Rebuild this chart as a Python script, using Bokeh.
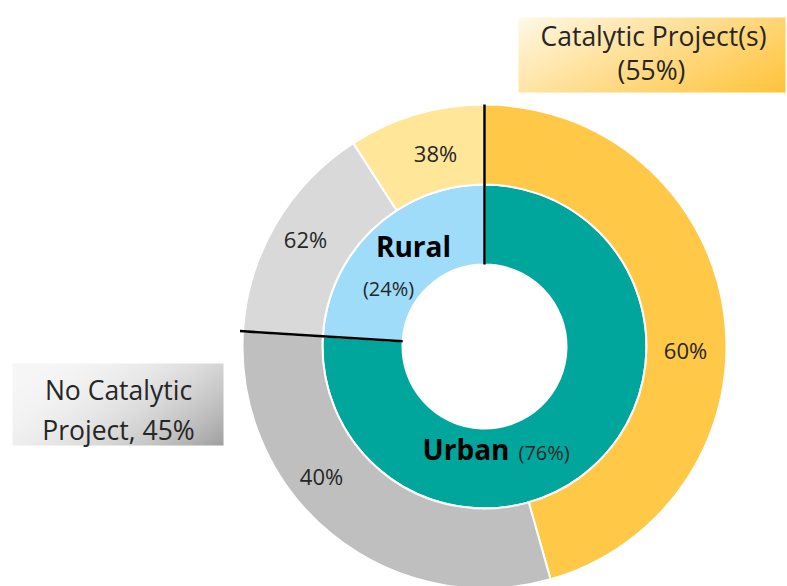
import numpy as np
from bokeh.plotting import figure
from bokeh.models import Range1d
from bokeh.core.properties import value
from bokeh.embed import file_html
from bokeh.resources import INLINE

# ---------------- data ----------------
inner_names = ["Urban", "Rural"]
inner_shares = [76, 24]                      # % of projects
outer_groups = ["Urban", "Urban", "Rural", "Rural"]
outer_kinds = ["Catalytic", "No catalytic", "No catalytic", "Catalytic"]
outer_shares = [60, 40, 62, 38]              # % within group
catalytic_total = 55
no_catalytic_total = 45

# ---------------- styling / layout ----------------
W, H = 787, 586
CX, CY = 484, 240
R_HOLE, R_INNER, R_OUTER = 82, 162, 242
inner_colors = ["#00A69C", "#9FDCF9"]
outer_colors = ["#FFC846", "#BFBFBF", "#D9D9D9", "#FFE699"]
FONT = "Open Sans"
TXT = "#262626"

p = figure(width=W, height=H, x_range=Range1d(0, W), y_range=Range1d(0, H),
           output_backend="svg", toolbar_location=None, min_border=0,
           outline_line_color=None, background_fill_color="white",
           border_fill_color="white")
p.axis.visible = False
p.grid.visible = False

# ---------- gradient callout boxes ----------
def gradient_box(x0, y0, w, h, c_light, c_dark, gamma=1.0):
    nx, ny = int(w), int(h)
    u = np.linspace(0, 1, nx)[None, :]
    v = np.linspace(0, 1, ny)[:, None]
    t = np.clip((0.65 * u + 0.35 * (1 - v)), 0, 1) ** gamma
    a = np.array(c_light, float)
    b = np.array(c_dark, float)
    rgb = a[None, None, :] * (1 - t[..., None]) + b[None, None, :] * t[..., None]
    arr = np.zeros((ny, nx, 4), dtype=np.uint8)
    arr[..., :3] = np.clip(rgb, 0, 255).astype(np.uint8)
    arr[..., 3] = 255
    img = arr.view(np.uint32).reshape(ny, nx)
    p.image_rgba(image=[img], x=x0, y=y0, dw=w, dh=h)

gradient_box(518, 494, 267, 75, (255, 250, 235), (255, 196, 60), gamma=0.9)
gradient_box(12, 141, 211, 82, (247, 247, 247), (160, 160, 160), gamma=2.2)

# ---------- wedges ----------
def spans(shares_deg):
    cum = np.concatenate([[0], np.cumsum(shares_deg)])
    starts = 90 - cum[1:]
    ends = 90 - cum[:-1]
    return np.deg2rad(starts), np.deg2rad(ends)

inner_deg = [s / 100 * 360 for s in inner_shares]
in_start, in_end = spans(inner_deg)

outer_deg = []
for g, s in zip(outer_groups, outer_shares):
    outer_deg.append(inner_deg[inner_names.index(g)] * s / 100)
out_start, out_end = spans(outer_deg)

p.annular_wedge(x=CX, y=CY, inner_radius=R_HOLE, outer_radius=R_INNER,
                start_angle=in_start, end_angle=in_end,
                fill_color=inner_colors, line_color="white", line_width=2)
p.annular_wedge(x=CX, y=CY, inner_radius=R_INNER, outer_radius=R_OUTER,
                start_angle=out_start, end_angle=out_end,
                fill_color=outer_colors, line_color="white", line_width=2)

# black separators at inner boundaries
bang = np.array([in_end[0], in_start[0]])
r_out = np.array([R_OUTER, R_OUTER + 3])
p.segment(x0=CX + R_HOLE * np.cos(bang), y0=CY + R_HOLE * np.sin(bang),
          x1=CX + r_out * np.cos(bang), y1=CY + r_out * np.sin(bang),
          line_color="black", line_width=2.5)

# ---------- labels ----------
outer_label_pos = [(685, 237), (321, 111), (305, 348), (435, 434)]
for (lx, ly), s in zip(outer_label_pos, outer_shares):
    p.text(x=[lx], y=[ly], text=[f"{s}%"], text_font=value(FONT),
           text_font_size="22px", text_color=TXT,
           text_align="center", text_baseline="middle")

# inner names
p.text(x=[413], y=[341], text=[inner_names[1]], text_font=value(FONT),
       text_font_size="28px", text_font_style="bold", text_color="black",
       text_align="center", text_baseline="middle")
p.text(x=[388], y=[298], text=[f"({inner_shares[1]}%)"], text_font=value(FONT),
       text_font_size="20px", text_color=TXT,
       text_align="center", text_baseline="middle")
p.text(x=[509], y=[138], text=[inner_names[0]], text_font=value(FONT),
       text_font_size="28px", text_font_style="bold", text_color="black",
       text_align="right", text_baseline="middle")
p.text(x=[518], y=[134], text=[f"({inner_shares[0]}%)"], text_font=value(FONT),
       text_font_size="20px", text_color=TXT,
       text_align="left", text_baseline="middle")

# callout texts
p.text(x=[653, 651], y=[551, 517],
       text=["Catalytic Project(s)", f"({catalytic_total}%)"],
       text_font=value(FONT), text_font_size="26.5px", text_color=TXT,
       text_align="center", text_baseline="middle")
p.text(x=[118, 118], y=[197, 157],
       text=["No Catalytic", f"Project, {no_catalytic_total}%"],
       text_font=value(FONT), text_font_size="26.5px", text_color=TXT,
       text_align="center", text_baseline="middle")

open("out.html", "w").write(file_html(p, INLINE))
